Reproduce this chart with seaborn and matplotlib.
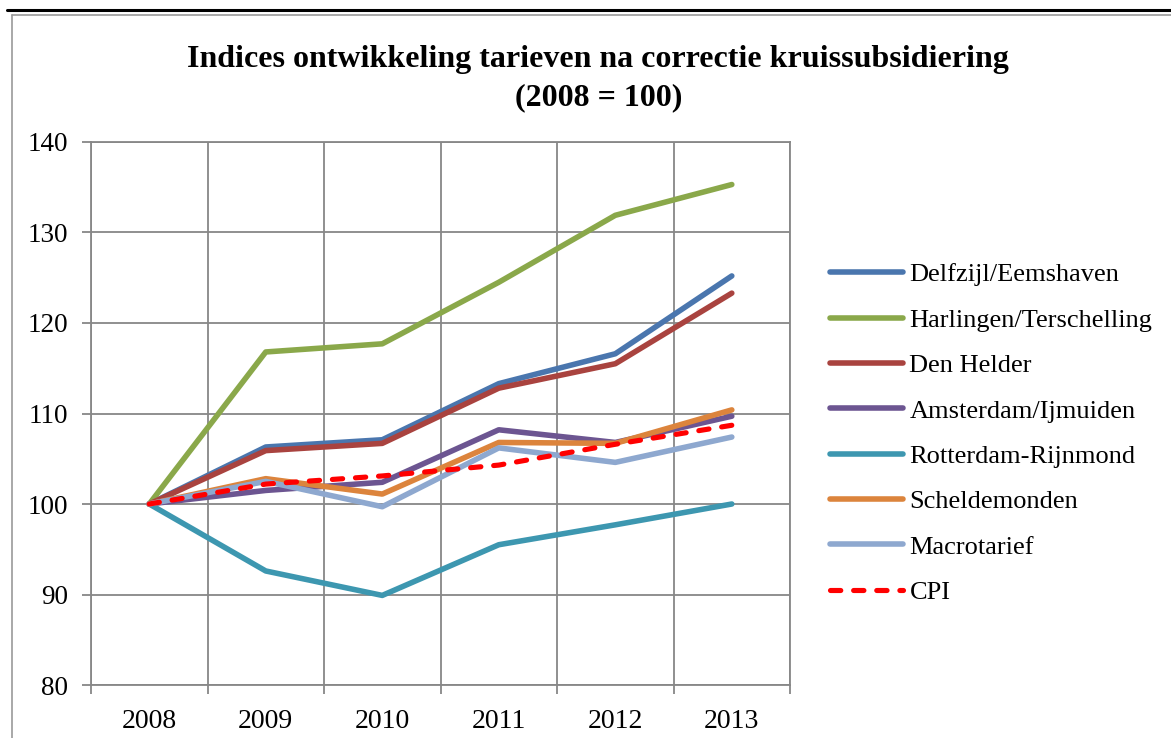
import numpy as np
import pandas as pd
import matplotlib
matplotlib.use("Agg")
import matplotlib.pyplot as plt
from matplotlib.lines import Line2D
import seaborn as sns

years = ["2008", "2009", "2010", "2011", "2012", "2013"]

delfzijl = [100, 106.3, 107.1, 113.3, 116.6, 125.2]
harlingen = [100, 116.8, 117.7, 124.5, 131.9, 135.3]
den_helder = [100, 105.9, 106.7, 112.8, 115.5, 123.3]
amsterdam = [100, 101.5, 102.4, 108.2, 106.8, 109.7]
rotterdam = [100, 92.6, 89.9, 95.5, 97.7, 100.0]
scheldemonden = [100, 102.8, 101.1, 106.8, 106.7, 110.4]
macrotarief = [100, 102.5, 99.7, 106.2, 104.6, 107.4]
cpi = [100, 102.2, 103.1, 104.3, 106.6, 108.7]

series_names = ["Delfzijl/Eemshaven", "Harlingen/Terschelling", "Den Helder",
                "Amsterdam/Ijmuiden", "Rotterdam-Rijnmond", "Scheldemonden",
                "Macrotarief", "CPI"]
series_values = [delfzijl, harlingen, den_helder, amsterdam, rotterdam,
                 scheldemonden, macrotarief, cpi]
colors = ["#4A76AE", "#8AA84A", "#A9433F", "#6C5591", "#3D97B0",
          "#DC843C", "#8EA8CF", "#FF0000"]

df = pd.DataFrame({
    "year": np.tile(years, len(series_names)),
    "x": np.tile(np.arange(len(years)), len(series_names)),
    "value": np.concatenate(series_values),
    "series": np.repeat(series_names, len(years)),
})

sns.set_style("white")
plt.rcParams["font.family"] = ["Liberation Serif", "DejaVu Serif"]
plt.rcParams["text.color"] = "black"
plt.rcParams["xtick.labelcolor"] = "black"
plt.rcParams["ytick.labelcolor"] = "black"

fig = plt.figure(figsize=(11.71, 7.38), dpi=100)
ax = fig.add_axes([0.0777, 0.0718, 0.597, 0.7358])

for name, col in zip(series_names, colors):
    sub = df[df["series"] == name]
    if name == "CPI":
        sns.lineplot(data=sub, x="x", y="value", ax=ax, color=col, lw=3.7,
                     label=name, dashes=False, linestyle=(0, (2.0, 2.5)),
                     dash_capstyle="round")
    else:
        sns.lineplot(data=sub, x="x", y="value", ax=ax, color=col, lw=4.0,
                     label=name, solid_capstyle="round")

ax.set_xlim(-0.5, 5.5)
ax.set_ylim(80, 140)
ax.set_yticks(np.arange(80, 141, 10))
ax.set_xticks(np.arange(len(years)))
ax.set_xticklabels(years)
ax.set_xticks(np.arange(-0.5, len(years), 1), minor=True)
ax.set_xlabel("")
ax.set_ylabel("")

gc = "#878787"
ax.grid(axis="y", which="major", color=gc, lw=1.3)
ax.grid(axis="x", which="minor", color=gc, lw=1.3)
ax.grid(axis="x", which="major", visible=False)
for s in ax.spines.values():
    s.set_color(gc)
    s.set_linewidth(1.3)
ax.tick_params(axis="y", which="major", length=6.5, width=1.3, color=gc,
               labelsize=19.5, pad=10, left=True)
ax.tick_params(axis="x", which="major", length=0, labelsize=20, pad=17)
ax.tick_params(axis="x", which="minor", length=6.5, width=1.3, color=gc,
               bottom=True)
ax.set_axisbelow(True)

ax.legend(loc="upper left", bbox_to_anchor=(0.700, 0.658),
          bbox_transform=fig.transFigure, frameon=False, fontsize=19,
          handlelength=2.75, handletextpad=0.25, labelspacing=0.83,
          borderaxespad=0)

fig.text(0.511, 0.920, "Indices ontwikkeling tarieven na correctie kruissubsidiering",
         ha="center", va="center", fontsize=23, fontweight="bold")
fig.text(0.511, 0.868, "(2008 = 100)", ha="center", va="center",
         fontsize=23, fontweight="bold")

# page frame around the chart
fig.add_artist(Line2D([0.006, 1.0], [0.986, 0.986], color="black", lw=2.2,
                      transform=fig.transFigure))
fig.add_artist(Line2D([0.010, 1.0], [0.979, 0.979], color="#999999", lw=1.2,
                      transform=fig.transFigure))
fig.add_artist(Line2D([0.010, 0.010], [0.0, 0.979], color="#999999", lw=1.2,
                      transform=fig.transFigure))

fig.savefig("out.png", dpi=100)
